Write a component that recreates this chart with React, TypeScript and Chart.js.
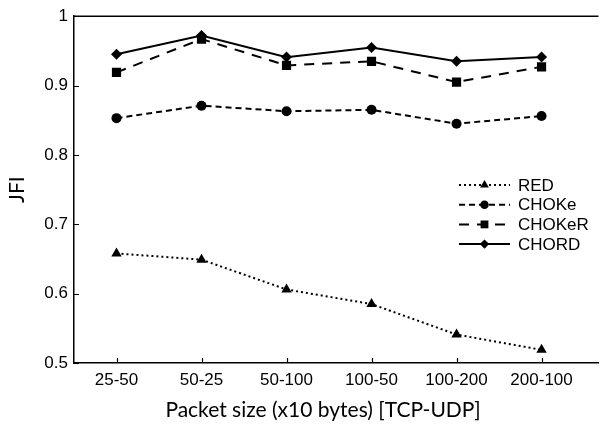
import React, { useEffect, useRef } from "react";
import { Chart, registerables } from "chart.js";
import { drawPoint } from "chart.js/helpers";

Chart.register(...registerables);

const categories = ["25-50", "50-25", "50-100", "100-50", "100-200", "200-100"];
const redValues = [0.658, 0.649, 0.606, 0.585, 0.541, 0.519];
const chokeValues = [0.853, 0.871, 0.863, 0.865, 0.845, 0.856];
const chokerValues = [0.919, 0.967, 0.929, 0.935, 0.905, 0.927];
const chordValues = [0.945, 0.972, 0.941, 0.955, 0.935, 0.941];
const yTicks = [0.5, 0.6, 0.7, 0.8, 0.9, 1];
const xTitle = "Packet size (x10 bytes) [TCP-UDP]";

const toPoints = (vals: number[]) => vals.map((v, i) => ({ x: i, y: v }));

const tickFont = { family: "'Liberation Sans', Arial, sans-serif", size: 17 };
const titleFont = { family: "Lato, 'Open Sans', sans-serif", size: 21 };

const innerTicks = {
  id: "innerTicks",
  afterDatasetsDraw(chart: any) {
    const ctx = chart.ctx;
    const area = chart.chartArea;
    const xs = chart.scales.x;
    const ys = chart.scales.y;
    ctx.save();
    ctx.strokeStyle = "#000";
    ctx.lineWidth = 1.2;
    ctx.beginPath();
    xs.ticks.forEach((t: any) => {
      const px = Math.round(xs.getPixelForValue(t.value)) + 0.5;
      ctx.moveTo(px, area.bottom);
      ctx.lineTo(px, area.bottom - 5);
    });
    ys.ticks.forEach((t: any) => {
      const py = Math.round(ys.getPixelForValue(t.value)) + 0.5;
      ctx.moveTo(area.left, py);
      ctx.lineTo(area.left + 5, py);
    });
    ctx.stroke();
    ctx.lineWidth = 1.5;
    ctx.beginPath();
    ctx.moveTo(area.left, area.top);
    ctx.lineTo(area.right, area.top);
    ctx.stroke();
    // x axis title, centred under the category span
    const xs0 = xs.getPixelForValue(-0.5);
    const xs1 = xs.getPixelForValue(categories.length - 0.5);
    ctx.fillStyle = "#000";
    ctx.font = `${titleFont.size}px ${titleFont.family}`;
    ctx.textAlign = "center";
    ctx.textBaseline = "middle";
    ctx.fillText(xTitle, (xs0 + xs1) / 2 - 6, 410);
    ctx.restore();
  },
};

const customLegend = {
  id: "customLegend",
  afterDraw(chart: any) {
    const ctx = chart.ctx;
    const x0 = 459;
    const x1 = 510;
    const tx = 518;
    const y0 = 185;
    const dy = 19.7;
    ctx.save();
    chart.data.datasets.forEach((ds: any, i: number) => {
      const y = y0 + i * dy;
      ctx.strokeStyle = "#000";
      ctx.lineWidth = ds.borderWidth;
      ctx.setLineDash(ds.borderDash || []);
      ctx.beginPath();
      ctx.moveTo(x0, y);
      ctx.lineTo(x1, y);
      ctx.stroke();
      ctx.setLineDash([]);
      ctx.fillStyle = "#000";
      drawPoint(ctx, { pointStyle: ds.pointStyle, radius: ds.pointRadius * 0.85, rotation: 0, borderWidth: 0 }, (x0 + x1) / 2, y);
      ctx.font = "17px 'Liberation Sans', Arial, sans-serif";
      ctx.textAlign = "left";
      ctx.textBaseline = "middle";
      ctx.fillText(ds.label, tx, y + 1);
    });
    ctx.restore();
  },
};

export default function App() {
  const ref = useRef<HTMLCanvasElement>(null);
  useEffect(() => {
    document.body.style.margin = "0";
    const base = {
      borderColor: "#000",
      backgroundColor: "#000",
      pointBackgroundColor: "#000",
      pointBorderColor: "#000",
      pointBorderWidth: 0,
      borderWidth: 2,
      fill: false,
      tension: 0,
    };
    const chart = new Chart(ref.current as HTMLCanvasElement, {
      type: "line",
      data: {
        datasets: [
          { ...base, label: "RED", data: toPoints(redValues), borderDash: [2, 3], pointStyle: "triangle", pointRadius: 6 },
          { ...base, label: "CHOKe", data: toPoints(chokeValues), borderDash: [6, 4], pointStyle: "circle", pointRadius: 5 },
          { ...base, label: "CHOKeR", data: toPoints(chokerValues), borderDash: [10, 8], pointStyle: "rect", pointRadius: 6.5 },
          { ...base, label: "CHORD", data: toPoints(chordValues), pointStyle: "rectRot", pointRadius: 5.5 },
        ] as any,
      },
      options: {
        animation: false,
        responsive: false,
        layout: { padding: { top: 14, right: 0, bottom: 0, left: 0 } },
        plugins: { legend: { display: false }, tooltip: { enabled: false } },
        scales: {
          x: {
            type: "linear",
            min: -0.5,
            max: 5.67,
            afterBuildTicks: (scale: any) => {
              scale.ticks = categories.map((_, i) => ({ value: i }));
            },
            afterFit: (scale: any) => {
              scale.height = 61;
            },
            grid: { display: false, drawTicks: false },
            border: { display: true, color: "#000", width: 1.5 },
            ticks: {
              color: "#000",
              font: tickFont,
              padding: 7,
              maxRotation: 0,
              autoSkip: false,
              callback: (v: any) => categories[v as number] ?? "",
            },
            title: { display: false },
          },
          y: {
            type: "linear",
            min: 0.5,
            max: 1,
            afterBuildTicks: (scale: any) => {
              scale.ticks = yTicks.map((v) => ({ value: v }));
            },
            afterFit: (scale: any) => {
              scale.width = 74;
            },
            grid: { display: false, drawTicks: false },
            border: { display: true, color: "#000", width: 1.5 },
            ticks: {
              color: "#000",
              font: tickFont,
              padding: 6,
              callback: (v: any) => String(Math.round((v as number) * 10) / 10),
            },
            title: {
              display: true,
              text: "JFI",
              color: "#000",
              font: titleFont,
              padding: { top: 5, bottom: 0 },
            },
          },
        },
      } as any,
      plugins: [innerTicks, customLegend],
    });
    return () => chart.destroy();
  }, []);
  return (
    <div style={{ width: 605, height: 424, background: "#fff" }}>
      <canvas ref={ref} width={605} height={424} style={{ display: "block" }} />
    </div>
  );
}
